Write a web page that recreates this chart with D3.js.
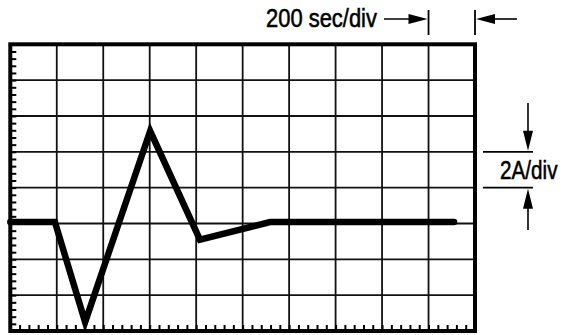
<!DOCTYPE html>
<html>
<head>
<meta charset="utf-8">
<script src="https://cdn.jsdelivr.net/npm/d3@7"></script>
<style>
  html, body { margin: 0; padding: 0; background: #fff; }
  svg { display: block; }
  text { font-family: "Liberation Sans", Arial, sans-serif; fill: #000; stroke: #000; stroke-width: 0.55px; }
</style>
</head>
<body>
<svg id="chart" width="562" height="335"></svg>
<script>
// Trace, in screen divisions (time divisions from left, current divisions from bottom)
const traceTime    = [0, 0.96, 1.61, 3.01, 4.08, 5.59, 9.55];
const traceCurrent = [3.04, 3.04, 0.25, 5.58, 2.55, 3.04, 3.04];
// Graticule
const timeDivisions = d3.range(0, 11);      // 10 horizontal divisions
const currentDivisions = d3.range(0, 9);    // 8 vertical divisions
const minorPerDiv = 5;
// Labels
const timeLabel = "200 sec/div";
const currentLabel = "2A/div";

const svg = d3.select("#chart");
const pLeft = 10.3, pRight = 475, pTop = 44.3, pBottom = 331;

const x = d3.scaleLinear().domain([0, 10]).range([pLeft, pRight]);
const y = d3.scaleLinear().domain([0, 8]).range([pBottom, pTop]);

// grid lines
svg.append("g").selectAll("line").data(timeDivisions.slice(1, -1)).join("line")
  .attr("x1", d => x(d)).attr("x2", d => x(d))
  .attr("y1", pTop).attr("y2", pBottom)
  .attr("stroke", "#111").attr("stroke-width", 1.8);
svg.append("g").selectAll("line").data(currentDivisions.slice(1, -1)).join("line")
  .attr("y1", d => y(d)).attr("y2", d => y(d))
  .attr("x1", pLeft).attr("x2", pRight)
  .attr("stroke", "#111").attr("stroke-width", 1.8);

// minor ticks: left edge (pointing in), bottom edge (pointing up)
const minorY = d3.range(0, 8 * minorPerDiv + 1).map(i => i / minorPerDiv);
const minorX = d3.range(0, 10 * minorPerDiv + 1).map(i => i / minorPerDiv);
const axL = svg.append("g").attr("transform", `translate(${pLeft},0)`)
  .call(d3.axisRight(y).tickValues(minorY).tickSize(6).tickFormat(""));
const axB = svg.append("g").attr("transform", `translate(0,${pBottom})`)
  .call(d3.axisTop(x).tickValues(minorX).tickSize(6).tickFormat(""));
[axL, axB].forEach(a => {
  a.select(".domain").remove();
  a.selectAll(".tick line").attr("stroke", "#000").attr("stroke-width", 2);
});

// border
svg.append("rect")
  .attr("x", pLeft).attr("y", pTop)
  .attr("width", pRight - pLeft).attr("height", pBottom - pTop)
  .attr("fill", "none").attr("stroke", "#000").attr("stroke-width", 4);

// trace
const pts = traceTime.map((t, i) => [t, traceCurrent[i]]);
svg.append("path")
  .attr("d", d3.line().x(d => x(d[0])).y(d => y(d[1]))(pts))
  .attr("fill", "none").attr("stroke", "#000")
  .attr("stroke-width", 6.5).attr("stroke-linejoin", "miter")
  .attr("stroke-miterlimit", 10).attr("stroke-linecap", "round");

// arrowhead helper
function arrowHead(tipX, tipY, dir, len, half) {
  let p;
  if (dir === "right") p = [[tipX, tipY], [tipX - len, tipY - half], [tipX - len, tipY + half]];
  if (dir === "left")  p = [[tipX, tipY], [tipX + len, tipY - half], [tipX + len, tipY + half]];
  if (dir === "down")  p = [[tipX, tipY], [tipX - half, tipY - len], [tipX + half, tipY - len]];
  if (dir === "up")    p = [[tipX, tipY], [tipX - half, tipY + len], [tipX + half, tipY + len]];
  svg.append("path").attr("d", "M" + p.join("L") + "Z").attr("fill", "#000");
}

// condensed text: scale horizontally to the target width
function condensedText(str, x0, yBase, width) {
  const t = svg.append("text").attr("x", 0).attr("y", 0).attr("font-size", 26).text(str);
  const natural = t.node().getComputedTextLength();
  t.attr("transform", `translate(${x0},${yBase}) scale(${width / natural},1)`);
  return t;
}

// time-per-division annotation (top)
const annY = 19;
const barA = x(9), barB = x(10);
condensedText(timeLabel, 266, 26.5, 111);
svg.append("line").attr("x1", 384).attr("x2", barA - 10).attr("y1", annY).attr("y2", annY)
  .attr("stroke", "#000").attr("stroke-width", 1.6);
arrowHead(barA - 1, annY, "right", 19, 5);
svg.append("line").attr("x1", barA).attr("x2", barA).attr("y1", 10).attr("y2", 35)
  .attr("stroke", "#000").attr("stroke-width", 1.8);
svg.append("line").attr("x1", barB).attr("x2", barB).attr("y1", 10).attr("y2", 35)
  .attr("stroke", "#000").attr("stroke-width", 1.8);
arrowHead(barB + 1, annY, "left", 19, 5);
svg.append("line").attr("x1", barB + 10).attr("x2", 517).attr("y1", annY).attr("y2", annY)
  .attr("stroke", "#000").attr("stroke-width", 1.6);

// current-per-division annotation (right)
const refA = y(5), refB = y(4), arX = 528;
svg.append("line").attr("x1", 483).attr("x2", 533).attr("y1", refA).attr("y2", refA)
  .attr("stroke", "#000").attr("stroke-width", 1.8);
svg.append("line").attr("x1", 483).attr("x2", 533).attr("y1", refB).attr("y2", refB)
  .attr("stroke", "#000").attr("stroke-width", 1.8);
svg.append("line").attr("x1", arX).attr("x2", arX).attr("y1", 103).attr("y2", refA - 10)
  .attr("stroke", "#000").attr("stroke-width", 1.6);
arrowHead(arX, refA - 1, "down", 20, 5);
svg.append("line").attr("x1", arX).attr("x2", arX).attr("y1", refB + 10).attr("y2", 230)
  .attr("stroke", "#000").attr("stroke-width", 1.6);
arrowHead(arX, refB + 1, "up", 20, 5);
condensedText(currentLabel, 500, 179, 57.5);
</script>
</body>
</html>
